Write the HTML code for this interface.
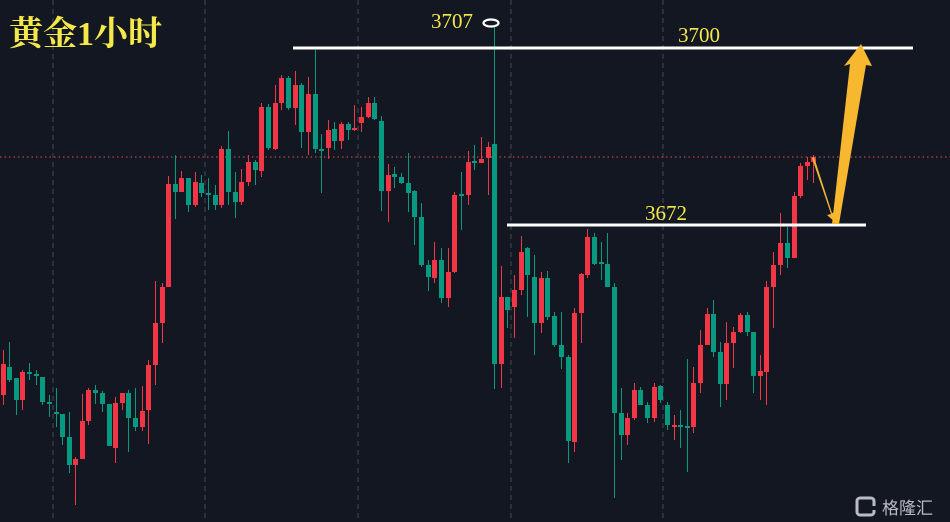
<!DOCTYPE html>
<html><head><meta charset="utf-8"><style>
html,body{margin:0;padding:0;background:#131722;}
svg{display:block}
</style></head><body>
<svg id="c" width="950" height="522" xmlns="http://www.w3.org/2000/svg">
<rect width="950" height="522" fill="#131722"/>
<g stroke="#3a3e48" stroke-width="1.3" stroke-dasharray="5,4">
<line x1="53" y1="0" x2="53" y2="522"/><line x1="205" y1="0" x2="205" y2="522"/>
<line x1="358" y1="0" x2="358" y2="522"/><line x1="511" y1="0" x2="511" y2="522"/>
<line x1="663" y1="0" x2="663" y2="522"/>
</g>
<line x1="0" y1="157" x2="950" y2="157" stroke="#b8434c" stroke-width="1.2" stroke-dasharray="1.5,3"/>
<g id="k"></g>
<line x1="293" y1="48" x2="913" y2="48" stroke="#fff" stroke-width="3"/>
<line x1="507" y1="225" x2="866" y2="225" stroke="#fff" stroke-width="3"/>
<ellipse cx="491" cy="23" rx="7.5" ry="3.5" fill="none" stroke="#fff" stroke-width="2.2"/>
<g font-family="Liberation Serif, serif" font-size="21" fill="#f5e94a">
<text x="431" y="28">3707</text>
<text x="678" y="42">3700</text>
<text x="645" y="220">3672</text>
</g>
<text x="9" y="45" font-family="Liberation Serif,'Noto Serif CJK SC',serif" font-weight="bold" font-size="34" fill="#f5e94a">黄金1小时</text>
<polygon points="812,158 831,214 827,215 836,223 836,212 832,213 814,157" fill="#f3b431"/>
<polygon points="832,224 850,64 844,66 861,44 872,66 866,65 839,224" fill="#f7b82f"/>
<text x="882" y="514" font-family="'Noto Sans CJK SC',sans-serif" font-size="17" fill="#b9bcc2">格隆汇</text>
<rect x="857" y="498" width="17" height="17" rx="3" fill="none" stroke="#b9bcc2" stroke-width="3"/>
<rect x="866" y="506" width="10" height="4" fill="#131722"/>
</svg>
<script>
var d=[
[0,364,395,350,405,'r'],[6,367,380,342,382,'g'],[13,378,400,378,415,'g'],[19,372,400,370,410,'r'],[26,372,374,363,380,'g'],[33,374,376,370,385,'g'],[39,377,402,377,405,'g'],[46,402,404,395,417,'g'],[53,412,414,388,427,'g'],[59,414,437,414,445,'g'],[66,437,465,412,473,'g'],[72,459,465,457,505,'r'],[79,421,459,394,459,'r'],[85,390,421,388,425,'r'],[92,390,393,385,404,'g'],[99,393,404,391,412,'g'],[106,404,446,404,446,'g'],[112,403,448,397,463,'r'],[119,393,403,393,410,'r'],[125,393,418,390,452,'g'],[132,418,427,388,431,'g'],[139,411,427,386,431,'r'],[145,365,410,360,444,'r'],[152,323,365,281,385,'r'],[159,287,323,283,343,'r'],[165,184,287,176,287,'r'],[172,184,192,155,219,'g'],[178,178,192,171,192,'r'],[185,178,205,178,212,'g'],[192,182,205,172,207,'r'],[198,183,193,175,197,'g'],[205,193,194,178,210,'g'],[212,195,205,185,210,'g'],[218,149,205,146,208,'r'],[225,149,192,131,205,'g'],[232,192,202,172,218,'g'],[238,182,202,169,205,'r'],[245,162,182,155,186,'r'],[252,162,170,160,185,'g'],[258,107,171,103,177,'r'],[265,107,148,104,150,'g'],[272,103,149,85,150,'r'],[278,78,103,75,110,'r'],[285,78,108,76,110,'g'],[292,85,108,71,125,'r'],[298,85,132,83,148,'g'],[305,94,132,77,155,'r'],[312,94,149,50,153,'g'],
[318,149,151,134,193,'g'],[325,130,148,120,159,'r'],[331,129,141,122,150,'g'],[338,124,141,122,149,'r'],[345,124,130,122,140,'g'],[351,128,130,105,131,'r'],[358,117,123,107,132,'r'],[365,103,117,97,118,'r'],[371,103,119,97,120,'g'],[378,121,191,116,211,'g'],[385,175,191,164,222,'r'],[391,174,177,167,188,'g'],[398,177,183,173,184,'g'],[405,183,193,153,212,'g'],[411,191,217,190,245,'g'],[418,217,265,203,267,'g'],[425,265,277,260,291,'g'],[431,260,278,242,283,'r'],[438,260,298,248,303,'g'],[445,272,298,248,307,'r'],[451,195,272,192,273,'r'],[458,194,196,172,230,'g'],[465,162,195,151,205,'r'],[471,161,163,145,170,'g'],[478,159,163,137,163,'r'],[485,147,158,142,195,'r'],[491,144,364,25,389,'g'],[498,297,364,266,388,'r'],[504,297,310,297,328,'g'],[511,290,307,275,338,'r'],[518,252,290,236,295,'r'],[524,248,275,247,317,'g'],[531,277,323,255,355,'g'],[538,278,323,272,333,'r'],[544,278,317,271,320,'g'],[551,316,345,312,347,'g'],[558,345,357,312,369,'g'],[565,357,441,355,463,'g'],[571,313,442,308,452,'r'],[578,274,313,273,343,'r'],[584,237,275,229,278,'r'],[591,237,264,233,265,'g'],[598,262,264,242,280,'g'],[604,264,287,233,287,'g'],[611,287,413,283,498,'g'],[618,413,435,388,460,'g'],
[624,418,435,413,445,'r'],[631,390,418,383,420,'r'],[637,390,405,387,405,'g'],[644,405,418,402,423,'g'],[651,387,418,383,422,'r'],[657,386,400,385,403,'g'],[664,405,425,402,430,'g'],[671,425,427,415,440,'r'],[677,425,427,410,448,'g'],[684,426,428,359,472,'g'],[690,383,427,367,433,'r'],[697,345,383,330,393,'r'],[704,314,345,308,345,'r'],[710,314,352,300,357,'g'],[717,352,384,342,407,'g'],[723,343,384,322,400,'r'],[730,332,343,327,368,'r'],[737,315,332,313,333,'r'],[744,315,332,312,336,'g'],[750,332,376,332,393,'g'],[757,371,376,355,400,'r'],[763,287,372,281,405,'r'],[770,265,287,252,328,'r'],[777,243,265,213,275,'r'],[784,243,258,227,268,'g'],[791,196,258,192,258,'r'],[797,166,196,163,198,'r'],[804,162,166,157,180,'r'],[810,157,162,155,183,'r']];
var g=document.getElementById('k'),s='';
d.forEach(function(c){var col=c[5]=='r'?'#f23645':'#089981';var x=c[0]+1;
s+='<line x1="'+(x+2.5)+'" y1="'+c[3]+'" x2="'+(x+2.5)+'" y2="'+c[4]+'" stroke="'+col+'" stroke-width="1"/>';
var h=Math.max(2,c[2]-c[1]);s+='<rect x="'+x+'" y="'+c[1]+'" width="5" height="'+h+'" fill="'+col+'"/>';});
g.innerHTML=s;
</script>
</body></html>
